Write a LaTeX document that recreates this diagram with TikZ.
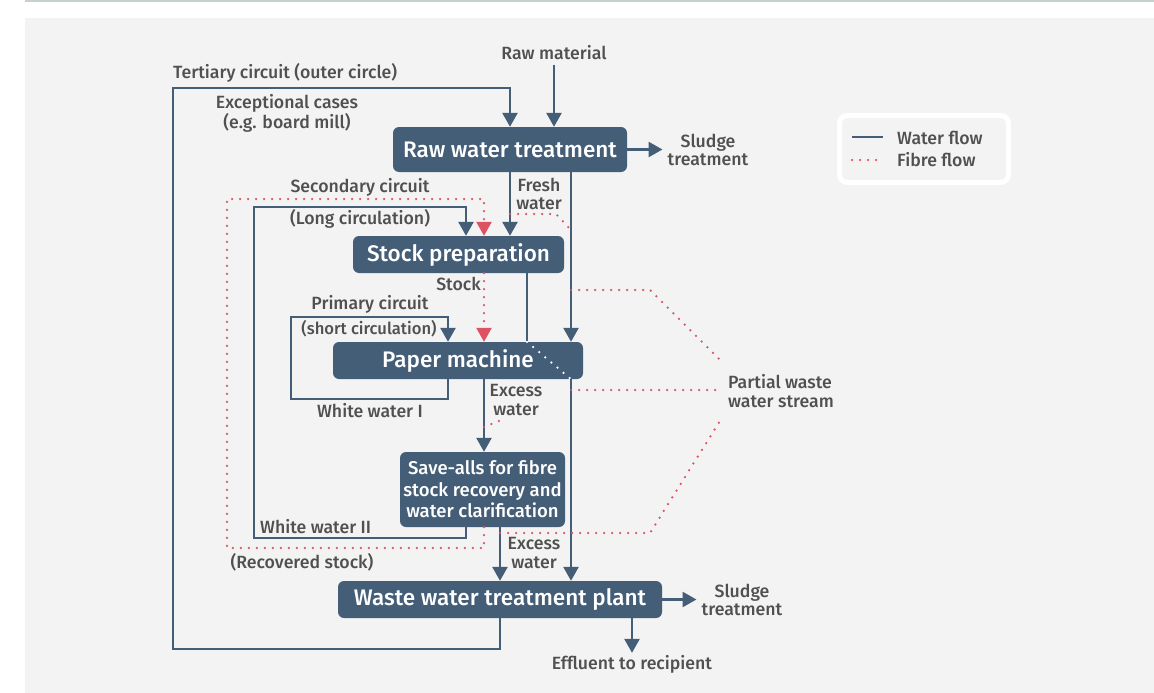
\documentclass[tikz,border=0pt]{standalone}
\usepackage{fontspec}
\setmainfont{Fira Sans Medium}
\usetikzlibrary{arrows.meta}
\definecolor{W}{RGB}{69,94,120}
\definecolor{F}{RGB}{222,82,98}
\definecolor{T}{RGB}{80,80,80}
\definecolor{B}{RGB}{242,243,242}
\definecolor{R}{RGB}{200,208,204}
\tikzset{
  box/.style={fill=W, text=white, rounded corners=6pt, inner sep=0pt,
    font=\fontsize{22.5}{24}\selectfont},
  water/.style={draw=W, line width=2.6pt},
  fibre/.style={draw=F, line width=2.5pt, line cap=round, dash pattern=on 0pt off 8pt},
  whitedots/.style={draw=white, line width=2.5pt, line cap=round, dash pattern=on 0pt off 8pt},
  flowtip/.style={-{Triangle[width=15pt,length=14pt]}},
  lbl/.style={text=T, inner sep=0pt, align=center, font=\fontsize{17.7}{18.5}\selectfont},
  legendbox/.style={draw=white, line width=5pt, fill=B, rounded corners=8pt,
    minimum width=169pt, minimum height=67pt},
}
\begin{document}
\begin{tikzpicture}[x=1pt, y=-1pt]
\useasboundingbox (0,0) rectangle (1154,693);
\fill[white] (0,0) rectangle (1154,693);
\fill[B] (25,18) rectangle (1154,693);
\draw[R, line width=2pt] (25,1.5) -- (1154,1.5);

% boxes
\node[box, minimum width=234pt, minimum height=45pt] (rawwater) at (510,149.5) {Raw water treatment};
\node[box, minimum width=211pt, minimum height=37pt] (stockprep) at (458.5,254.5) {Stock preparation};
\node[box, minimum width=250pt, minimum height=37pt] (papermachine) at (458,360.5) {Paper machine};
\node[box, minimum width=165pt, minimum height=75pt, align=center,
  font=\fontsize{18.5}{21.5}\selectfont] (saveall) at (482.5,489.5) {Save-alls for fibre\\stock recovery and\\water clarification};
\node[box, minimum width=324pt, minimum height=37pt] (wwtp) at (500,599.5) {Waste water treatment plant};

% labels
\node[lbl] (rawmat) at (554,53) {Raw material};
\node[lbl, anchor=west] (tertiary) at (173,73) {Tertiary circuit (outer circle)};
\node[lbl] (exceptional) at (287,113) {Exceptional cases\\(e.g. board mill)};
\node[lbl] (sludgeA) at (708,150) {Sludge\\treatment};
\node[lbl] (fresh) at (539,194) {Fresh\\water};
\node[lbl] (secondary) at (360,187) {Secondary circuit};
\node[lbl] (longcirc) at (360,219) {(Long circulation)};
\node[lbl, anchor=east] (stock) at (481,284) {Stock};
\node[lbl] (primary) at (370,304) {Primary circuit};
\node[lbl, font=\fontsize{16.6}{18.5}\selectfont] (shortcirc) at (369,329) {(short circulation)};
\node[lbl] (whiteI) at (370,411) {White water I};
\node[lbl] (excessA) at (516,400) {Excess\\water};
\node[lbl, anchor=west, align=left] (partial) at (728,391) {Partial waste\\water stream};
\node[lbl, anchor=west] (whiteII) at (260,527) {White water II};
\node[lbl] (recovered) at (302,562) {(Recovered stock)};
\node[lbl] (excessB) at (534,553) {Excess\\water};
\node[lbl] (sludgeB) at (742,600) {Sludge\\treatment};
\node[lbl] (effluent) at (632,664) {Effluent to recipient};

% columns and corners
\coordinate (xsec) at (466,0);
\coordinate (xfib) at (484,0);
\coordinate (xstock) at (527,0);
\coordinate (xby) at (571,0);
\coordinate (xpri) at (448,0);
\coordinate (tertbl) at (173,649);
\coordinate (terttl) at (173,88);
\coordinate (secbl) at (254,538);
\coordinate (sectl) at (254,207);
\coordinate (fibbl) at (227,548);
\coordinate (fibtl) at (227,199);
\coordinate (pribl) at (291,399);
\coordinate (pritl) at (291,317);
\coordinate (pwa1) at (556,214);
\coordinate (pwa2) at (571,230);
\coordinate (pwb1) at (650,290);
\coordinate (pwb2) at (720,360);
\coordinate (pwc) at (720,390);
\coordinate (pwd1) at (650,533);
\coordinate (pwd2) at (720,421);
\coordinate (exw1) at (484,427);
\coordinate (exw2) at (504,419);

% water flow
\draw[water, flowtip] (wwtp.south) |- (tertbl) -- (terttl) -| (rawwater.north);
\draw[water, flowtip, shorten <=5pt] (rawmat.south) -- (rawmat.south |- rawwater.north);
\draw[water, flowtip, shorten >=5pt] (rawwater.east) -- (sludgeA.west |- rawwater.east);
\draw[water, flowtip] (rawwater.south) -- (rawwater.south |- stockprep.north);
\draw[water, flowtip] (xby |- rawwater.south) -- (xby |- papermachine.north);
\draw[water, flowtip] (xsec |- saveall.south) |- (secbl) -- (sectl) -| (xsec |- stockprep.north);
\draw[water] (xstock |- stockprep.south) -- (xstock |- papermachine.north);
\draw[whitedots] (xstock |- papermachine.north) -- (xby |- papermachine.south);
\draw[water, flowtip] (xpri |- papermachine.south) |- (pribl) -- (pritl) -| (xpri |- papermachine.north);
\draw[water, flowtip] (xfib |- papermachine.south) -- (xfib |- saveall.north);
\draw[water, flowtip] (xby |- papermachine.south) -- (xby |- wwtp.north);
\draw[water, flowtip] (wwtp.north |- saveall.south) -- (wwtp.north);
\draw[water, flowtip, shorten >=5pt] (wwtp.east) -- (sludgeB.west |- wwtp.east);
\draw[water, flowtip, shorten >=2pt] (effluent.north |- wwtp.south) -- (effluent.north);

% fibre flow
\draw[fibre, flowtip] (xfib |- saveall.south) |- (fibbl) -- (fibtl) -| (xfib |- stockprep.north);
\draw[fibre, flowtip] (xfib |- stockprep.south) -- (xfib |- papermachine.north);
\draw[fibre] (exw1) -- (exw2);
\draw[fibre] (rawwater.south |- pwa1) -- (pwa1) -- (pwa2);
\draw[fibre] (xby |- pwb1) -- (pwb1) -- (pwb2);
\draw[fibre] (xby |- pwc) -- (pwc);
\draw[fibre] (wwtp.north |- pwd1) -- (pwd1) -- (pwd2);

% legend
\node[legendbox] (legend) at (924,149) {};
\draw[water] (852,137) -- (883,137);
\draw[fibre] (852,160) -- (883,160);
\node[lbl, anchor=west] (waterflow) at (897,138) {Water flow};
\node[lbl, anchor=west] (fibreflow) at (897,160) {Fibre flow};
\end{tikzpicture}
\end{document}
